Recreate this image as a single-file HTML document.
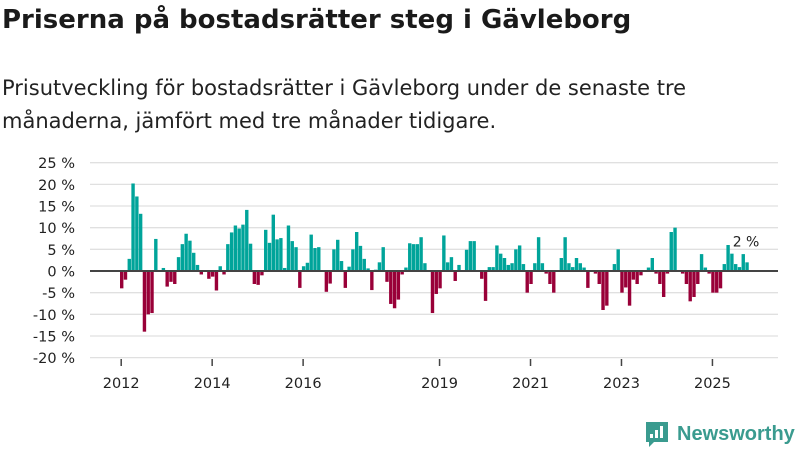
<!DOCTYPE html>
<html><head><meta charset="utf-8"><style>
body{margin:0;width:800px;height:450px;background:#fff;font-family:"DejaVu Sans",sans-serif;overflow:hidden;position:relative}
h1{position:absolute;left:2px;top:5px;margin:0;font-size:26px;font-weight:bold;color:#1a1a1a;white-space:nowrap}
p.sub{position:absolute;left:2px;top:72px;margin:0;font-size:21px;line-height:33px;color:#222;white-space:nowrap}
svg{position:absolute;left:0;top:0}
</style></head><body>
<h1>Priserna på bostadsrätter steg i Gävleborg</h1>
<p class="sub">Prisutveckling för bostadsrätter i Gävleborg under de senaste tre<br>månaderna, jämfört med tre månader tidigare.</p>
<svg id="chart" width="800" height="450"></svg>
<script>
const yTicks=[25,20,15,10,5,0,-5,-10,-15,-20];
const yearLabels=["2012","2014","2016","2019","2021","2023","2025"];
const yearIdx=[0,24,48,84,108,132,156];
const startLabel="2012-01";
const values=[-4,-2,2.8,20.2,17.2,13.2,-14,-10,-9.7,7.4,0,0.7,-3.6,-2.5,-3,3.2,6.2,8.6,7,4.2,1.4,-0.8,0,-1.8,-1.3,-4.5,1.1,-0.8,6.2,8.9,10.5,9.8,10.7,14.1,6.3,-3,-3.2,-1,9.5,6.5,13,7.3,7.6,0.7,10.5,6.9,5.5,-3.9,1.1,1.9,8.4,5.3,5.5,0,-4.8,-2.9,5,7.2,2.3,-3.9,1,5,9,5.8,2.8,0.6,-4.4,0.3,2,5.5,-2.5,-7.6,-8.6,-6.6,-0.8,0.8,6.4,6.2,6.2,7.8,1.8,0,-9.7,-5.3,-4,8.2,2,3.2,-2.3,1.4,0,4.9,6.9,6.9,0,-1.8,-6.9,0.9,0.9,5.9,4,3,1.4,1.8,5,5.9,1.6,-5,-3,1.8,7.8,1.8,-0.6,-3,-5,0,3,7.8,1.8,0.9,3,1.8,0.8,-3.9,0,-0.6,-3,-9,-8,0,1.6,5,-5,-3.8,-8,-2,-3,-1,0,0.8,3,-0.6,-3,-6,-0.6,9,10,0,-0.6,-3,-7,-6,-3,3.9,0.8,-0.6,-5,-5,-4,1.6,6,4,1.6,0.9,3.9,2];
const NS="http://www.w3.org/2000/svg";
const svg=document.getElementById('chart');
const y=v=>271-v*4.333;
const x=i=>121.7+i*3.79;
function mk(t,a){const e=document.createElementNS(NS,t);for(const k in a)e.setAttribute(k,a[k]);svg.appendChild(e);return e;}
const FF='DejaVu Sans, sans-serif';
yTicks.forEach(t=>{
 const g=mk('line',{x1:90,x2:778,y1:y(t),y2:y(t),stroke:'#e0e0e0','stroke-width':1.3});
 
 
 const l=mk('text',{x:75,y:y(t)+5.5,'text-anchor':'end','font-size':14.5,fill:'#222','font-family':FF});
 l.textContent=t+' %';
 
 
});
values.forEach((v,i)=>{
 const top=Math.min(y(v),y(0)),h=Math.abs(y(v)-y(0));
 const b=mk('rect',{x:x(i)-1.7,y:top,width:3.4,height:h,fill:v>=0?'#00a49a':'#990038'});
 
 
});
const z=mk('line',{x1:90,x2:778,y1:y(0),y2:y(0),stroke:'#444','stroke-width':2});


yearLabels.forEach((lab,k)=>{
 const tx=x(yearIdx[k])-0.5;
 const tk=mk('line',{x1:tx,x2:tx,y1:359,y2:366,stroke:'#444','stroke-width':1.5});
 
 
 const t=mk('text',{x:tx,y:388,'text-anchor':'middle','font-size':14.5,fill:'#222','font-family':FF});
 t.textContent=lab;
 
 
});
const last=values.length-1;
const vl=mk('text',{x:x(last)-1,y:y(values[last])-16,'text-anchor':'middle','font-size':14,fill:'#222','font-family':FF});
vl.textContent=Math.round(values[last])+' %';


const lg=mk('g',{});


const ic=document.createElementNS(NS,'path');
ic.setAttribute('d','M646 422h22v20h-14l-5 5v-5h-3z');ic.setAttribute('fill','#3a9b8f');lg.appendChild(ic);
[[650,434,4],[655,430,8],[660,426,12]].forEach(a=>{const r=document.createElementNS(NS,'rect');r.setAttribute('x',a[0]);r.setAttribute('y',a[1]);r.setAttribute('width',3);r.setAttribute('height',a[2]);r.setAttribute('fill','#fff');lg.appendChild(r);});
const lt=document.createElementNS(NS,'text');
lt.setAttribute('x',677);lt.setAttribute('y',440);lt.setAttribute('font-size',20);lt.setAttribute('font-weight','bold');lt.setAttribute('fill','#3a9b8f');lt.setAttribute('font-family','Liberation Sans, sans-serif');
lt.textContent='Newsworthy';lg.appendChild(lt);
</script>
</body></html>
